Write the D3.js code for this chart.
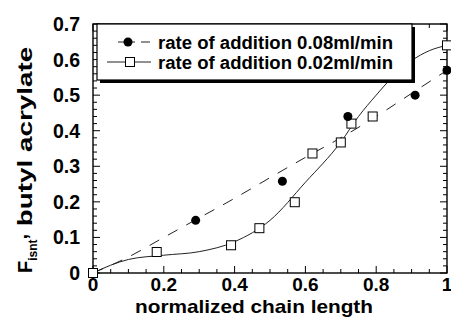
<!DOCTYPE html>
<html>
<head>
<meta charset="utf-8">
<script src="https://cdn.jsdelivr.net/npm/d3@7"></script>
<style>
  body { margin: 0; background: #fff; }
  svg text { font-family: Arial, "Liberation Sans", Helvetica, sans-serif; font-weight: bold; fill: #000; }
</style>
</head>
<body>
<svg id="chart" width="451" height="331"></svg>
<script>
// rate of addition 0.08 ml/min (filled circles)
const fastX = [0.29, 0.535, 0.72, 0.91, 1.0];
const fastY = [0.148, 0.258, 0.44, 0.50, 0.57];
// dashed trend line for the fast series
const fastFitX = [0, 0.1, 0.2, 0.3, 0.4, 0.5, 0.6, 0.7, 0.8, 0.9, 1.0];
const fastFitY = [0, 0.045, 0.1, 0.155, 0.21, 0.268, 0.325, 0.38, 0.44, 0.505, 0.57];

// rate of addition 0.02 ml/min (open squares)
const slowX = [0, 0.18, 0.39, 0.47, 0.57, 0.62, 0.70, 0.73, 0.79, 1.0];
const slowY = [0, 0.059, 0.078, 0.126, 0.199, 0.336, 0.367, 0.42, 0.44, 0.64];
// solid smooth curve for the slow series
const slowFitX = [0, 0.05, 0.1, 0.2, 0.3, 0.4, 0.5, 0.6, 0.7, 0.75, 0.8, 0.85, 0.9, 0.95, 1.0];
const slowFitY = [0, 0.022, 0.038, 0.05, 0.06, 0.088, 0.148, 0.255, 0.368, 0.44, 0.5, 0.555, 0.597, 0.625, 0.64];

const xTicks = [0, 0.2, 0.4, 0.6, 0.8, 1];
const xTickLabels = ['0', '0.2', '0.4', '0.6', '0.8', '1'];
const yTicks = [0, 0.1, 0.2, 0.3, 0.4, 0.5, 0.6, 0.7];
const yTickLabels = ['0', '0.1', '0.2', '0.3', '0.4', '0.5', '0.6', '0.7'];
const legendLabels = ['rate of addition 0.08ml/min', 'rate of addition 0.02ml/min'];

const svg = d3.select('#chart');
const plotL = 93, plotR = 447, plotT = 24, plotB = 273;

const x = d3.scaleLinear().domain([0, 1]).range([plotL, plotR]);
const y = d3.scaleLinear().domain([0, 0.7]).range([plotB, plotT]);

// Frame
svg.append('rect')
  .attr('x', plotL).attr('y', plotT)
  .attr('width', plotR - plotL).attr('height', plotB - plotT)
  .attr('fill', 'none').attr('stroke', '#000').attr('stroke-width', 1.4);

// Ticks: inward on all four sides
const xMinor = d3.range(0, 1.0001, 0.05);
const yMinor = d3.range(0, 0.7001, 0.02);
const isMajor = (v, step) => Math.abs(v / step - Math.round(v / step)) < 1e-6;

const tickG = svg.append('g').attr('stroke', '#000').attr('stroke-width', 1);
xMinor.forEach(v => {
  const len = isMajor(v, 0.2) ? 7 : 4;
  tickG.append('line').attr('x1', x(v)).attr('x2', x(v)).attr('y1', plotB).attr('y2', plotB - len);
  tickG.append('line').attr('x1', x(v)).attr('x2', x(v)).attr('y1', plotT).attr('y2', plotT + len);
});
yMinor.forEach(v => {
  const len = isMajor(v, 0.1) ? 7 : 4;
  tickG.append('line').attr('y1', y(v)).attr('y2', y(v)).attr('x1', plotL).attr('x2', plotL + len);
  tickG.append('line').attr('y1', y(v)).attr('y2', y(v)).attr('x1', plotR).attr('x2', plotR - len);
});

// Tick labels
svg.append('g').selectAll('text').data(xTicks).join('text')
  .attr('x', d => x(d)).attr('y', 291)
  .attr('text-anchor', 'middle').attr('font-size', 19)
  .text((d, i) => xTickLabels[i]);

svg.append('g').selectAll('text').data(yTicks).join('text')
  .attr('x', 80).attr('y', d => y(d) + 7)
  .attr('text-anchor', 'end').attr('font-size', 19.5)
  .text((d, i) => yTickLabels[i]);

// Axis titles
svg.append('text')
  .attr('x', 135).attr('y', 313)
  .attr('font-size', 18.5)
  .attr('textLength', 238).attr('lengthAdjust', 'spacingAndGlyphs')
  .text('normalized chain length');

const yTitle = svg.append('text')
  .attr('transform', 'translate(32,273) rotate(-90)')
  .attr('font-size', 20);
yTitle.append('tspan').text('F');
yTitle.append('tspan').attr('font-size', 12).attr('dy', 5).text('isnt');
yTitle.append('tspan').attr('dy', -10).text(',');
yTitle.append('tspan').attr('dy', 5)
  .attr('textLength', 187).attr('lengthAdjust', 'spacingAndGlyphs')
  .text(' butyl acrylate');

// Lines
const line = d3.line().x(d => x(d[0])).y(d => y(d[1])).curve(d3.curveMonotoneX);

svg.append('path')
  .datum(fastFitX.map((v, i) => [v, fastFitY[i]]))
  .attr('d', line)
  .attr('fill', 'none').attr('stroke', '#222').attr('stroke-width', 1)
  .attr('stroke-dasharray', '11,10');

svg.append('path')
  .datum(slowFitX.map((v, i) => [v, slowFitY[i]]))
  .attr('d', line)
  .attr('fill', 'none').attr('stroke', '#222').attr('stroke-width', 1);

// Markers
svg.append('g').selectAll('rect').data(slowX).join('rect')
  .attr('x', d => x(d) - 4.5).attr('y', (d, i) => y(slowY[i]) - 4.5)
  .attr('width', 9).attr('height', 9)
  .attr('fill', '#fff').attr('stroke', '#000').attr('stroke-width', 1);

svg.append('g').selectAll('circle').data(fastX).join('circle')
  .attr('cx', d => x(d)).attr('cy', (d, i) => y(fastY[i]))
  .attr('r', 4.5).attr('fill', '#000');

// Legend box with shadow
const lg = svg.append('g');
lg.append('rect').attr('x', 100).attr('y', 27).attr('width', 315).attr('height', 56).attr('fill', '#000');
lg.append('rect').attr('x', 97).attr('y', 24).attr('width', 315).attr('height', 56)
  .attr('fill', '#fff').attr('stroke', '#000').attr('stroke-width', 1.2);

// row 1: dashed + circle
lg.append('line').attr('x1', 118).attr('x2', 150).attr('y1', 42).attr('y2', 42)
  .attr('stroke', '#222').attr('stroke-width', 1).attr('stroke-dasharray', '17,6,9');
lg.append('circle').attr('cx', 128).attr('cy', 42).attr('r', 4.5).attr('fill', '#000');
// row 2: solid + square
lg.append('line').attr('x1', 107).attr('x2', 151).attr('y1', 62).attr('y2', 62)
  .attr('stroke', '#222').attr('stroke-width', 1);
lg.append('rect').attr('x', 125.5).attr('y', 57.5).attr('width', 9).attr('height', 9)
  .attr('fill', '#fff').attr('stroke', '#000').attr('stroke-width', 1);

lg.selectAll('text.leg').data(legendLabels).join('text')
  .attr('class', 'leg')
  .attr('x', 158).attr('y', (d, i) => 48.5 + i * 20)
  .attr('font-size', 17.5)
  .attr('textLength', 235).attr('lengthAdjust', 'spacingAndGlyphs')
  .text(d => d);
</script>
</body>
</html>
